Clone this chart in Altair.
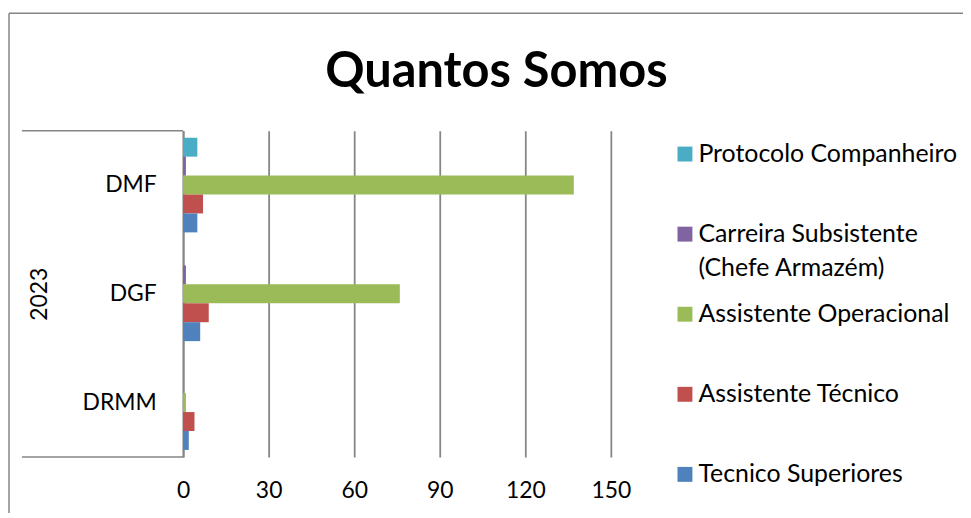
import altair as alt
import pandas as pd

# ---- data ----
departamentos = ["DMF", "DGF", "DRMM"]
series = [
    "Protocolo Companheiro",
    "Carreira Subsistente (Chefe Armazém)",
    "Assistente Operacional",
    "Assistente Técnico",
    "Tecnico Superiores",
]
cores = ["#4BACC6", "#8064A2", "#9BBB59", "#C0504D", "#4F81BD"]
protocolo_companheiro = [5, 0, 0]
carreira_subsistente = [1, 1, 0]
assistente_operacional = [137, 76, 1]
assistente_tecnico = [7, 9, 4]
tecnico_superiores = [5, 6, 2]
x_ticks = [0, 30, 60, 90, 120, 150]
ano = "2023"
titulo = "Quantos Somos"

valores = [
    protocolo_companheiro,
    carreira_subsistente,
    assistente_operacional,
    assistente_tecnico,
    tecnico_superiores,
]
rows = []
for s, vals in zip(series, valores):
    for d, v in zip(departamentos, vals):
        rows.append({"Departamento": d, "Serie": s, "Valor": v})
df = pd.DataFrame(rows)

FONT = "Lato"
GRID = "#868686"

label_expr = (
    "indexof(datum.label, ' (') > 0 ? "
    "[substring(datum.label, 0, indexof(datum.label, ' (')), "
    "substring(datum.label, indexof(datum.label, ' (') + 1)] : datum.label"
)

bars = alt.Chart(df).mark_bar().encode(
    x=alt.X(
        "Valor:Q",
        scale=alt.Scale(domain=[0, 150], nice=False),
        axis=alt.Axis(
            values=x_ticks, grid=True, gridColor=GRID, gridWidth=1.8,
            domain=False, ticks=False, labelPadding=23, labelFontSize=23,
            labelFont=FONT, labelColor="black", title=None, labelFlush=False,
        ),
    ),
    y=alt.Y(
        "Departamento:N",
        sort=departamentos,
        scale=alt.Scale(paddingInner=0.13, paddingOuter=0.065),
        axis=alt.Axis(
            title=ano, titleAngle=270, titleX=-144, titleY=164,
            titleAlign="center", titleBaseline="middle", titleFontSize=23,
            titleFont=FONT, titleFontWeight="normal", titleColor="black",
            labelFontSize=23, labelFont=FONT, labelColor="black",
            labelPadding=27, ticks=False, domainColor=GRID, domainWidth=1.8,
            grid=False,
        ),
    ),
    yOffset=alt.YOffset("Serie:N", sort=series,
                        scale=alt.Scale(paddingInner=0, paddingOuter=0)),
    color=alt.Color(
        "Serie:N",
        sort=series,
        scale=alt.Scale(domain=series, range=cores),
        legend=alt.Legend(
            title=None, orient="none", legendX=492, legendY=11,
            symbolType="square", symbolSize=225, symbolStrokeWidth=0,
            labelFont=FONT, labelFontSize=25, labelColor="black",
            labelOffset=1, labelLimit=400, rowPadding=20.5, gridAlign="all",
            padding=0, labelExpr=label_expr,
        ),
    ),
)

deco = alt.Chart(pd.DataFrame({"k": [0]}))
line_top = deco.mark_rule(color=GRID, strokeWidth=1.5).encode(
    x=alt.value(-162), x2=alt.value(0), y=alt.value(0))
line_bottom = deco.mark_rule(color=GRID, strokeWidth=1.5).encode(
    x=alt.value(-162), x2=alt.value(0), y=alt.value(328))
border_top = deco.mark_rule(color=GRID, strokeWidth=1.5).encode(
    x=alt.value(-175), x2=alt.value(800), y=alt.value(-118))
border_left = deco.mark_rule(color=GRID, strokeWidth=1.5).encode(
    x=alt.value(-175), y=alt.value(-118), y2=alt.value(400))

chart = alt.layer(bars, line_top, line_bottom, border_top, border_left).properties(
    width=430,
    height=328,
    autosize=alt.AutoSizeParams(type="none"),
    padding={"left": 176, "top": 122, "right": 354, "bottom": 55},
    title=alt.TitleParams(
        text=titulo, font=FONT, fontSize=49, fontWeight="bold", color="black",
        anchor="middle", dx=100, dy=124, baseline="alphabetic", offset=0,
    ),
    background="white",
).configure(
    view=alt.ViewConfig(strokeWidth=0),
    style={"guide-label": {"lineHeight": 34}},
)

chart.save("out.html", embed_options={"renderer": "svg", "actions": False})
